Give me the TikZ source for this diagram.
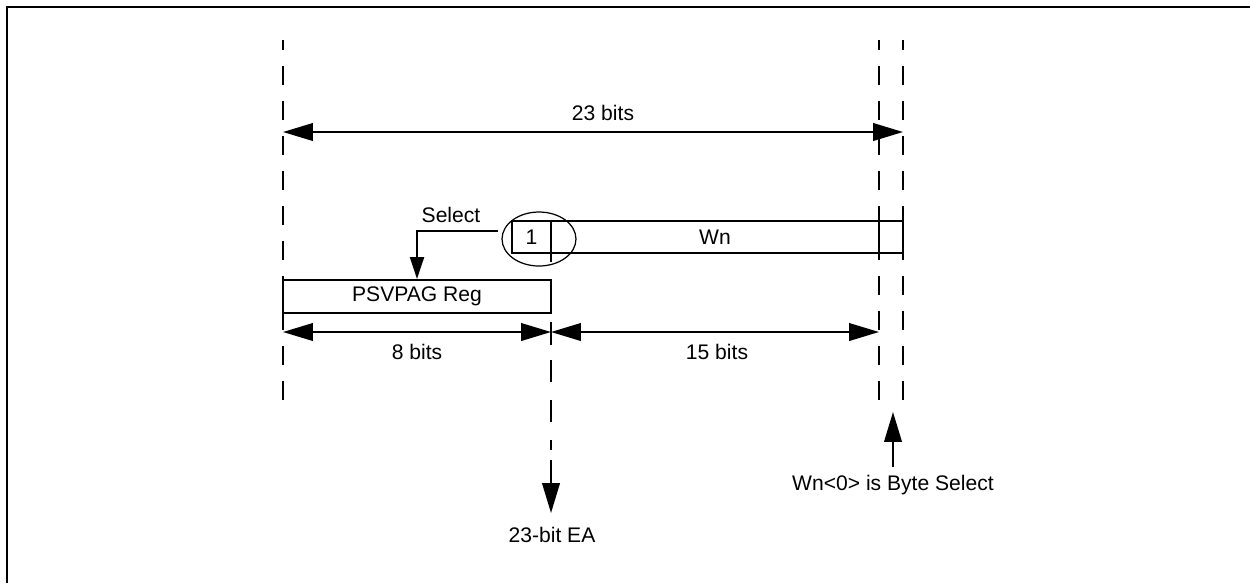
\documentclass[tikz,border=0pt]{standalone}
\usepackage{fontspec}
\setmainfont{Liberation Sans}
\usetikzlibrary{arrows.meta, shapes.geometric}

\tikzset{
  regbox/.style={draw, line width=1.1pt, minimum height=0.64cm, inner sep=0pt},
  guide/.style={line width=1.1pt, dash pattern=on 10.8pt off 9.1pt, dash phase=5pt},
  dimarrow/.style={line width=1.1pt, {Triangle[length=17pt, width=10pt]}-{Triangle[length=17pt, width=10pt]}},
  bigarrow/.style={line width=1.1pt, -{Triangle[length=17pt, width=10pt]}},
  selarrow/.style={line width=1.1pt, -{Triangle[length=12.5pt, width=8pt]}},
}

\begin{document}
\begin{tikzpicture}[x=0.02cm, y=-0.02cm, every node/.style={font=\fontsize{12}{14}\selectfont}]
\useasboundingbox (0,0) rectangle (1250,583);
% frame, cut off by the page
\draw[line width=1.4pt] (7,583) -- (7,7) -- (1250,7);

% guide lines
\foreach \gx/\gend in {283/401, 879/400, 903/400} {
    \draw[guide] (\gx,40) -- (\gx,\gend);
}
\foreach \ga/\gb in {253/262, 322/345, 360/382, 400/422, 440/450} {
    \draw[line width=1.1pt] (551,\ga) -- (551,\gb);
}

% registers
\node[regbox, minimum width=5.36cm, minimum height=0.66cm] (psvpag) at (417,296.5) {PSVPAG Reg};
\node[regbox, minimum width=0.78cm] (bitone) at (531.5,237) {1};
\node[regbox, minimum width=6.56cm] (wn) at (715,237) {Wn};
\node[regbox, minimum width=0.48cm] (bitzero) at (891,237) {};
\node[draw, ellipse, line width=0.7pt, minimum width=1.48cm, minimum height=1.08cm] (selring) at (539,239) {};

% select path
\coordinate (selstart) at (498,231);
\node (sellabel) at (451,215) {Select};
\draw[selarrow] (selstart) -| (psvpag.north);

% widths
\coordinate (topl) at (283,132);
\coordinate (topr) at (903,132);
\draw[dimarrow] (topl) -- (topr);
\node (topbits) at (603,113) {23 bits};

\coordinate (lowl) at (283,332);
\coordinate (lowm) at (551,332);
\coordinate (lowr) at (879,332);
\draw[dimarrow] (lowl) -- (lowm);
\draw[dimarrow] (lowm) -- (lowr);
\node (pagbits) at (417,352) {8 bits};
\node (wnbits) at (717,352) {15 bits};

% effective address
\coordinate (eastart) at (551,460);
\coordinate (eatip) at (551,513);
\draw[bigarrow] (eastart) -- (eatip);
\node (ealabel) at (552,534.5) {23-bit EA};

% byte select
\coordinate (bytetail) at (893,467);
\coordinate (bytetip) at (893,412);
\draw[bigarrow] (bytetail) -- (bytetip);
\node (bytelabel) at (893,485.5) {Wn<0> is Byte Select};
\end{tikzpicture}
\end{document}
